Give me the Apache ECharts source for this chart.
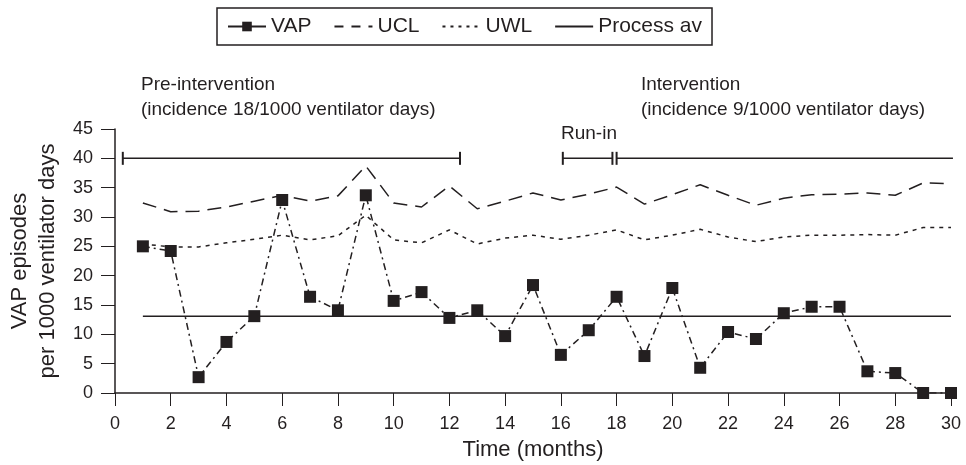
<!DOCTYPE html>
<html>
<head>
<meta charset="utf-8">
<script src="https://cdn.jsdelivr.net/npm/echarts@6/dist/echarts.min.js"></script>
<style>
  html, body { margin: 0; padding: 0; background: #fff; }
  #chart { width: 966px; height: 465px; }
</style>
</head>
<body>
<div id="chart"></div>
<script>
// months 1..30
const months = [1, 2, 3, 4, 5, 6, 7, 8, 9, 10, 11, 12, 13, 14, 15, 16, 17, 18, 19, 20, 21, 22, 23, 24, 25, 26, 27, 28, 29, 30];
const vap = [25.0, 24.2, 2.7, 8.7, 13.1, 32.9, 16.4, 14.1, 33.7, 15.7, 17.2, 12.8, 14.1, 9.7, 18.4,
  6.5, 10.7, 16.4, 6.3, 17.9, 4.3, 10.4, 9.2, 13.6, 14.7, 14.7, 3.7, 3.4, 0, 0];
const ucl = [32.4, 30.9, 31.0, 31.7, 32.7, 33.7, 32.7, 33.6, 38.7, 32.4, 31.7, 35.3, 31.4, 32.7, 34.1,
  32.9, 33.9, 35.1, 32.2, 33.8, 35.5, 33.7, 32.0, 33.2, 33.8, 33.9, 34.1, 33.7, 35.8, 35.7];
const uwl = [25.4, 24.9, 24.9, 25.6, 26.2, 26.9, 26.1, 26.8, 30.3, 26.1, 25.6, 27.8, 25.4, 26.4, 26.9,
  26.2, 26.9, 27.8, 26.1, 26.9, 27.9, 26.6, 25.8, 26.6, 26.9, 26.9, 27.0, 26.9, 28.2, 28.2];
const processAv = 13.1;
// phase brackets [start month, end month], drawn at y = 40
const phases = [[0.28, 12.38], [16.07, 17.85], [18.0, 30.07]];
const phaseLevel = 40;

const ink = "#231f20";
const chart = echarts.init(document.getElementById("chart"));

const bracketSeries = phases.map((p, i) => ({
  name: "phase" + i,
  type: "line",
  data: [[p[0], phaseLevel], [p[1], phaseLevel]],
  symbol: "rect",
  symbolSize: [2, 13],
  itemStyle: { color: ink },
  lineStyle: { color: ink, width: 1.5 },
  silent: true,
  z: 1
}));

chart.setOption({
  animation: false,
  textStyle: { fontFamily: "Liberation Sans, Arial, sans-serif", color: ink },
  legend: {
    top: 8,
    left: 217,
    data: [
      { name: "VAP", lineStyle: { type: "solid" } },
      { name: "UCL", itemStyle: { opacity: 0 }, lineStyle: { type: [9, 8] } },
      { name: "UWL", itemStyle: { opacity: 0 }, lineStyle: { type: [3, 5] } },
      { name: "Process av", itemStyle: { opacity: 0 }, lineStyle: { type: "solid" } }
    ],
    borderColor: ink,
    borderWidth: 1.5,
    borderRadius: 0,
    padding: [8, 10, 8, 10],
    itemGap: 22,
    itemWidth: 38,
    itemHeight: 12,
    textStyle: { fontSize: 21, color: ink }
  },
  grid: { left: 115, right: 15, top: 129, bottom: 72, containLabel: false, outerBoundsMode: "none" },
  xAxis: {
    type: "value",
    min: 0,
    max: 30,
    interval: 2,
    name: "Time (months)",
    nameLocation: "middle",
    nameGap: 46,
    nameTextStyle: { fontSize: 22, color: ink },
    axisLine: { onZero: false, lineStyle: { color: ink, width: 1.5 } },
    axisTick: { length: 13, lineStyle: { color: ink } },
    axisLabel: { fontSize: 18, color: ink, margin: 22 },
    splitLine: { show: false }
  },
  yAxis: {
    type: "value",
    min: 0,
    max: 45,
    interval: 5,
    name: "VAP episodes\nper 1000 ventilator days",
    nameLocation: "middle",
    nameRotate: 90,
    nameGap: 35,
    nameTextStyle: { fontSize: 22, color: ink, lineHeight: 28 },
    axisLine: { show: true, lineStyle: { color: ink, width: 1.5 } },
    axisTick: { show: true, length: 14, lineStyle: { color: ink } },
    axisLabel: { fontSize: 18, color: ink, margin: 22 },
    splitLine: { show: false }
  },
  graphic: [
    { type: "text", left: 141, top: 72, style: { text: "Pre-intervention\n(incidence 18/1000 ventilator days)", fontSize: 19, lineHeight: 25, fill: ink, fontFamily: "Liberation Sans, sans-serif" } },
    { type: "text", left: 641, top: 72, style: { text: "Intervention\n(incidence 9/1000 ventilator days)", fontSize: 19, lineHeight: 25, fill: ink, fontFamily: "Liberation Sans, sans-serif" } },
    { type: "text", left: 561, top: 124, style: { text: "Run-in", fontSize: 19, fill: ink, fontFamily: "Liberation Sans, sans-serif" } }
  ],
  series: [
    {
      name: "VAP",
      type: "line",
      data: months.map((m, i) => [m, vap[i]]),
      symbol: "rect",
      symbolSize: 12,
      itemStyle: { color: ink },
      lineStyle: { color: ink, width: 1.5, type: [7, 4, 2, 4] },
      z: 5
    },
    {
      name: "UCL",
      type: "line",
      data: months.map((m, i) => [m, ucl[i]]),
      symbol: "none",
      itemStyle: { color: ink },
      lineStyle: { color: ink, width: 1.5, type: [14, 8] }
    },
    {
      name: "UWL",
      type: "line",
      data: months.map((m, i) => [m, uwl[i]]),
      symbol: "none",
      itemStyle: { color: ink },
      lineStyle: { color: ink, width: 1.5, type: [4, 5] }
    },
    {
      name: "Process av",
      type: "line",
      data: [[months[0], processAv], [months[months.length - 1], processAv]],
      symbol: "none",
      itemStyle: { color: ink },
      lineStyle: { color: ink, width: 1.5 }
    }
  ].concat(bracketSeries)
});
</script>
</body>
</html>
